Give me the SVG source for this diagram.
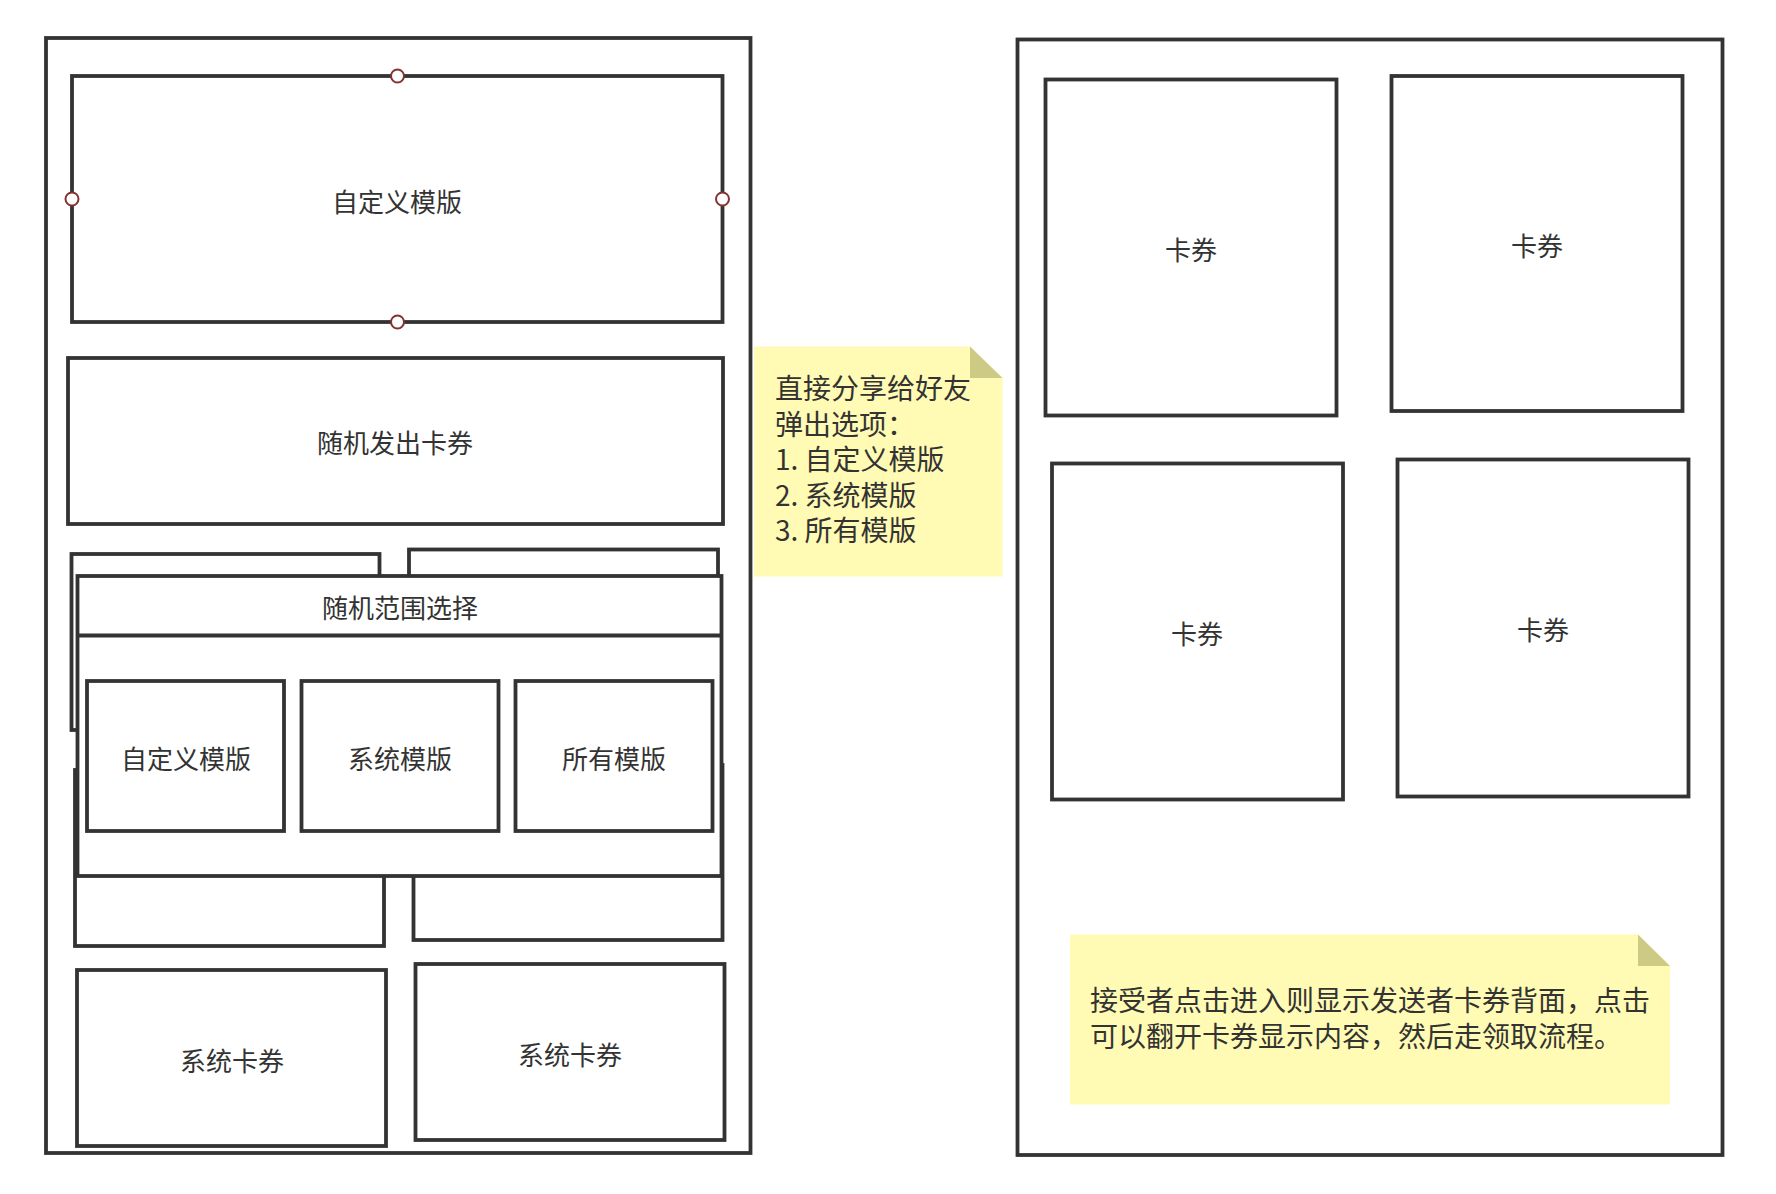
<svg xmlns="http://www.w3.org/2000/svg" width="1776" height="1194" viewBox="0 0 1776 1194">
<style>
.box{fill:#fff;stroke:#333;stroke-width:3.8}
.lbl{font-family:"Noto Sans CJK SC","Noto Sans",sans-serif;font-size:26px;fill:#333;text-anchor:middle;dominant-baseline:central}
.note{fill:#fffbb4}
.fold{fill:#cdca85}
.nt{font-family:"Noto Sans CJK SC","Noto Sans",sans-serif;font-size:28px;fill:#333}
.handle{fill:#fff;stroke:#853330;stroke-width:2}
</style>
<rect width="1776" height="1194" fill="#fff"/>
<g id="left-frame"><rect class="box" x="46" y="38" width="704.5" height="1115"/></g>
<g id="custom-template">
<rect class="box" x="72" y="76" width="650.5" height="246"/>
<text class="lbl" x="397" y="200">自定义模版</text>
<circle class="handle" cx="397.5" cy="76" r="6.5"/>
<circle class="handle" cx="397.5" cy="322" r="6.5"/>
<circle class="handle" cx="72" cy="199" r="6.5"/>
<circle class="handle" cx="722.5" cy="199" r="6.5"/>
</g>
<g id="random-card"><rect class="box" x="68" y="358" width="655" height="166"/><text class="lbl" x="395" y="441">随机发出卡券</text></g>
<g id="back-a"><rect class="box" x="71.5" y="554" width="308" height="176"/></g>
<g id="back-c"><rect class="box" x="409" y="549.5" width="309" height="176"/></g>
<g id="back-b"><rect class="box" x="75" y="770" width="309" height="176"/></g>
<g id="back-d"><rect class="box" x="413.5" y="765" width="309" height="175"/></g>
<g id="range-select">
<rect class="box" x="77.5" y="576" width="644" height="300"/>
<line x1="77.5" y1="635.5" x2="721.5" y2="635.5" stroke="#333" stroke-width="3.8"/>
<text class="lbl" x="400" y="606">随机范围选择</text>
</g>
<g id="opt-custom"><rect class="box" x="87" y="681" width="197" height="150"/><text class="lbl" x="186" y="757">自定义模版</text></g>
<g id="opt-system"><rect class="box" x="301.5" y="681" width="197" height="150"/><text class="lbl" x="400" y="757">系统模版</text></g>
<g id="opt-all"><rect class="box" x="515.5" y="681" width="197" height="150"/><text class="lbl" x="614" y="757">所有模版</text></g>
<g id="sys-card-1"><rect class="box" x="77" y="970" width="309" height="176"/><text class="lbl" x="232" y="1059">系统卡券</text></g>
<g id="sys-card-2"><rect class="box" x="415.5" y="964" width="309" height="176"/><text class="lbl" x="570" y="1053">系统卡券</text></g>
<g id="note-share">
<path class="note" d="M754,346.5 H970 L1002.5,378 V576.5 H754 Z"/>
<path class="fold" d="M970,346.5 L1002.5,378 H970 Z"/>
<text class="nt" x="775" y="399"><tspan x="775" y="399">直接分享给好友</tspan><tspan x="775" dy="35.5">弹出选项：</tspan><tspan x="775" dy="35.5">1. 自定义模版</tspan><tspan x="775" dy="35.5">2. 系统模版</tspan><tspan x="775" dy="35.5">3. 所有模版</tspan></text>
</g>
<g id="right-frame"><rect class="box" x="1017.5" y="39.5" width="705" height="1115.5"/></g>
<g id="card-1"><rect class="box" x="1045.5" y="79.5" width="291" height="336"/><text class="lbl" x="1191" y="248">卡券</text></g>
<g id="card-2"><rect class="box" x="1391.5" y="76" width="291" height="335"/><text class="lbl" x="1537" y="244.5">卡券</text></g>
<g id="card-3"><rect class="box" x="1052" y="463.5" width="291" height="336"/><text class="lbl" x="1197" y="632">卡券</text></g>
<g id="card-4"><rect class="box" x="1397.5" y="459.5" width="291" height="337"/><text class="lbl" x="1543" y="628.5">卡券</text></g>
<g id="note-receive">
<path class="note" d="M1070,934.5 H1638 L1670,966 V1104.5 H1070 Z"/>
<path class="fold" d="M1638,934.5 L1670,966 H1638 Z"/>
<text class="nt" x="1090" y="1011"><tspan x="1090" y="1011">接受者点击进入则显示发送者卡券背面，点击</tspan><tspan x="1090" dy="36">可以翻开卡券显示内容，然后走领取流程。</tspan></text>
</g>
<g id="connectors"></g>
</svg>
